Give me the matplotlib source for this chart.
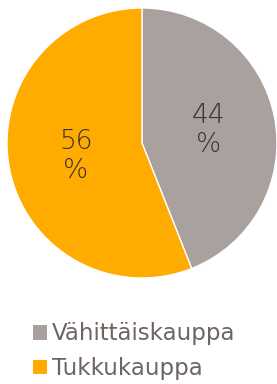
import matplotlib
matplotlib.use("Agg")
import matplotlib.pyplot as plt
from matplotlib.patches import Patch

labels = ["Vähittäiskauppa", "Tukkukauppa"]
values = [44, 56]
colors = ["#A9A19D", "#FFAB00"]

plt.rcParams['font.family'] = ['DejaVu Sans']

fig = plt.figure(figsize=(2.77, 3.84), dpi=100)
# pie centre ~ (142, 143) px from top, radius ~135 px
ax = fig.add_axes([(142 - 135) / 277, (241 - 135) / 384, 270 / 277, 270 / 384])

wedges, texts, autotexts = ax.pie(
    values, colors=colors, startangle=90, counterclock=False,
    autopct=lambda p: f"{round(p)}\n%", pctdistance=0.5,
    wedgeprops=dict(edgecolor="white", linewidth=1),
    textprops=dict(color="#333333", fontsize=19, linespacing=1.2, fontweight="light"),
)
ax.set_aspect("equal")
ax.set_xlim(-1, 1)
ax.set_ylim(-1, 1)

handles = [Patch(facecolor=c, edgecolor="none") for c in colors]
leg = fig.legend(handles, labels, loc="upper left", bbox_to_anchor=(22 / 277, 1 - 311 / 384),
                 frameon=False, fontsize=16.5, handlelength=0.6, handleheight=0.6,
                 handletextpad=0.2, labelspacing=0.5, borderpad=0)
for t in leg.get_texts():
    t.set_color("#6E6460")

fig.savefig("out.png", dpi=100)
